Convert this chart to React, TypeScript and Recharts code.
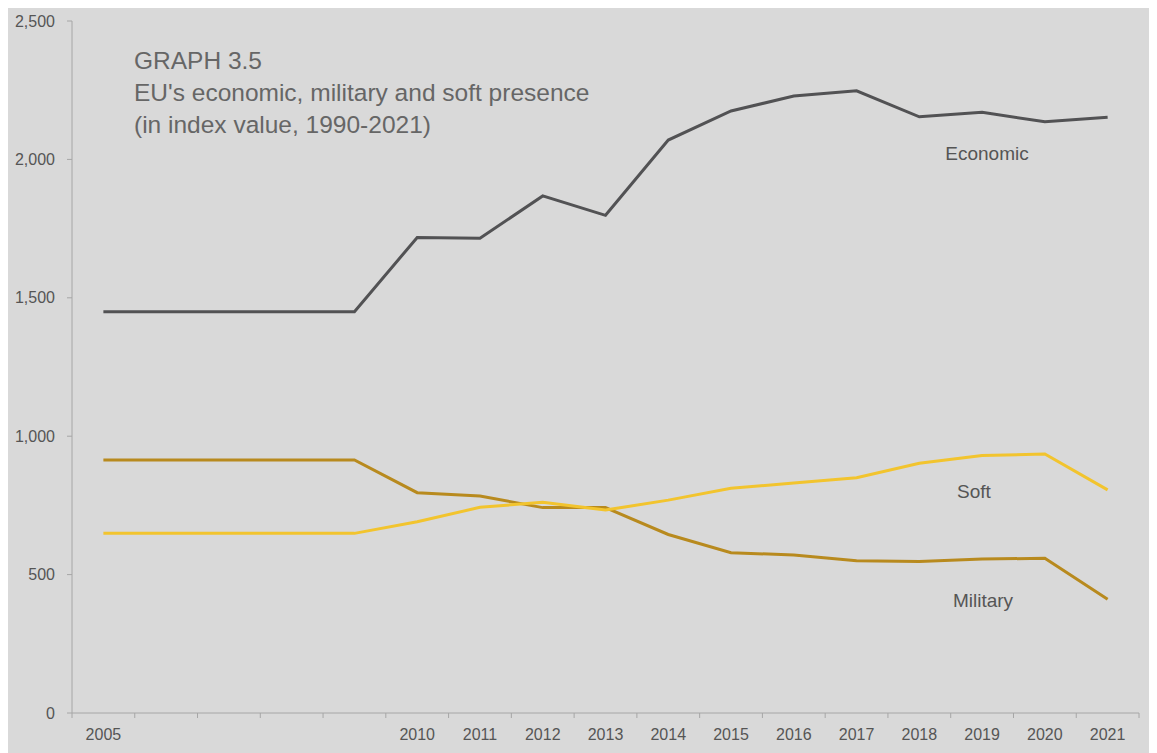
import React from "react"
import { LineChart, Line, XAxis, YAxis } from "recharts"

// years on the category axis, only some of them carry a label
const years = [2005, 2006, 2007, 2008, 2009, 2010, 2011, 2012, 2013, 2014, 2015, 2016, 2017, 2018, 2019, 2020, 2021]
const yearLabels = ["2005", "", "", "", "", "2010", "2011", "2012", "2013", "2014", "2015", "2016", "2017", "2018", "2019", "2020", "2021"]

const economic = [1450, 1450, 1450, 1450, 1450, 1718, 1715, 1868, 1798, 2070, 2175, 2229, 2248, 2154, 2170, 2136, 2152]
const military = [914, 914, 914, 914, 914, 796, 784, 742, 742, 645, 579, 571, 550, 547, 556, 559, 411]
const soft = [649, 649, 649, 649, 649, 691, 743, 761, 733, 769, 812, 831, 850, 902, 930, 936, 806]

const yTicks = [0, 500, 1000, 1500, 2000, 2500]
const titleLines = ["GRAPH 3.5", "EU's economic, military and soft presence", "(in index value, 1990-2021)"]

const W = 1154
const H = 750
const margin = { top: 18, right: 18, bottom: 0, left: 0 }
const yAxisWidth = 69
const band = (W - margin.left - margin.right - yAxisWidth) / years.length
const font = "'Liberation Sans', Arial, sans-serif"
const axisColor = "#a6a6a6"
const textColor = "#555555"

const data = years.map((year, i) => ({
  year,
  x: i + 0.5,
  economic: economic[i],
  military: military[i],
  soft: soft[i],
}))

const YearTick = (props: any) => {
  const { x, y, payload } = props
  const label = yearLabels[payload.value]
  if (!label) return null
  return (
    <text x={x + band / 2} y={y + 20} textAnchor="middle" fill={textColor} fontSize={16} fontFamily={font}>
      {label}
    </text>
  )
}

export default function App() {
  return (
    <div style={{ position: "relative", width: W, height: H, background: "#d9d9d9", margin: "-5px 0 0 -5px" }}>
      <LineChart width={W} height={H} data={data} margin={margin}>
        <XAxis
          dataKey="x"
          type="number"
          domain={[0, years.length]}
          ticks={years.map((_, i) => i).concat(years.length)}
          interval={0}
          height={40}
          tickSize={5}
          stroke={axisColor}
          tick={<YearTick />}
        />
        <YAxis
          domain={[0, 2500]}
          ticks={yTicks}
          width={yAxisWidth}
          tickSize={5}
          tickMargin={12}
          stroke={axisColor}
          tick={{ fill: textColor, fontSize: 16, fontFamily: font }}
          tickFormatter={(v: number) => v.toLocaleString("en-US")}
        />
        <Line dataKey="economic" stroke="#525254" strokeWidth={3} dot={false} isAnimationActive={false} />
        <Line dataKey="military" stroke="#b88a1e" strokeWidth={3} dot={false} isAnimationActive={false} />
        <Line dataKey="soft" stroke="#f2c42e" strokeWidth={3} dot={false} isAnimationActive={false} />
      </LineChart>
      <svg width={W} height={H} style={{ position: "absolute", left: 0, top: 0, pointerEvents: "none" }}>
        {titleLines.map((line, i) => (
          <text key={i} x={131} y={66 + i * 32} fill="#666666" fontSize={24.5} fontFamily={font}>
            {line}
          </text>
        ))}
        <text x={984} y={157} textAnchor="middle" fill={textColor} fontSize={19} fontFamily={font}>Economic</text>
        <text x={971} y={495} textAnchor="middle" fill={textColor} fontSize={19} fontFamily={font}>Soft</text>
        <text x={980} y={604} textAnchor="middle" fill={textColor} fontSize={19} fontFamily={font}>Military</text>
      </svg>
    </div>
  )
}
